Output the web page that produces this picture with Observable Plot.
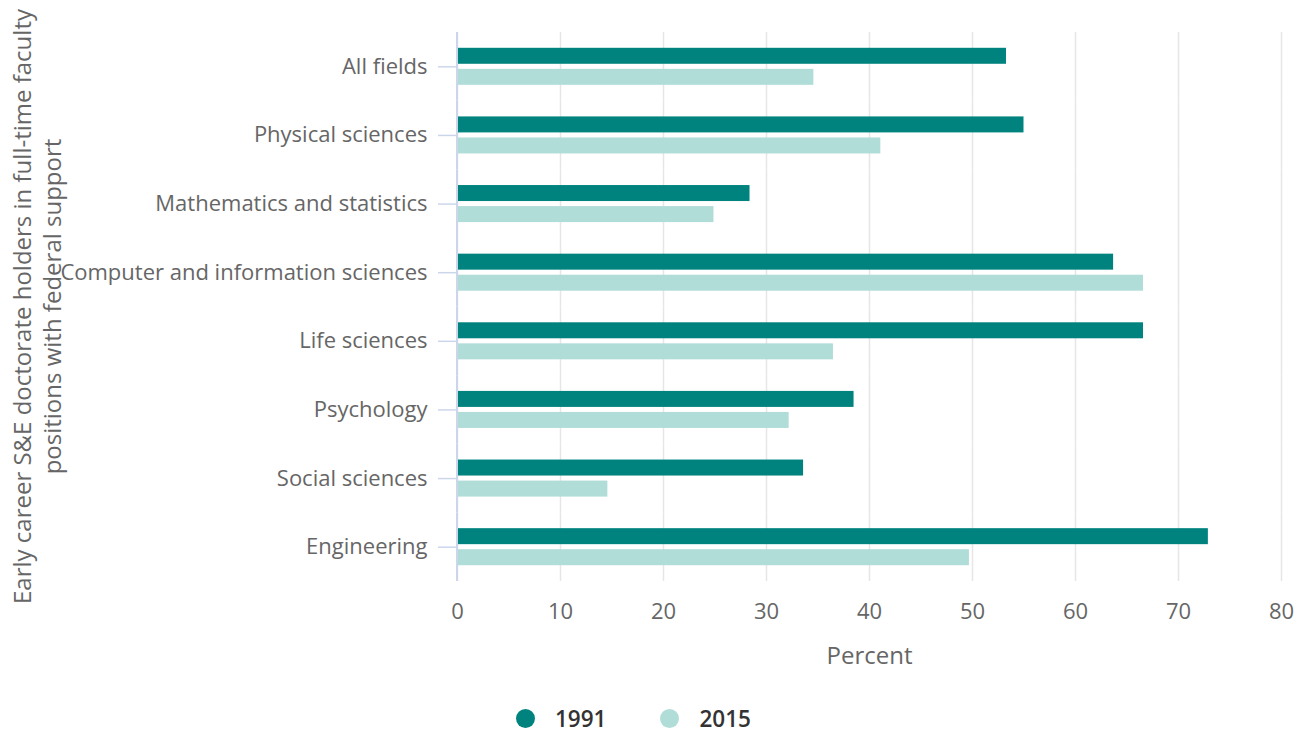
<!DOCTYPE html>
<html>
<head>
<meta charset="utf-8">
<script src="https://cdn.jsdelivr.net/npm/d3@7"></script>
<script src="https://cdn.jsdelivr.net/npm/@observablehq/plot@0.6"></script>
<style>
  html, body { margin: 0; padding: 0; background: #fff; }
  #wrap { position: relative; width: 1306px; height: 733px; font-family: "Open Sans", sans-serif; }
  #ytitle {
    position: absolute; width: 640px; height: 59px; left: -284px; top: 276.5px;
    transform: rotate(-90deg); text-align: center; font-size: 24px; line-height: 29.5px;
    color: #666666; white-space: nowrap;
  }
  #legend { position: absolute; left: 516px; top: 703px; height: 30px; display: flex; align-items: center;
    font-size: 22.5px; font-weight: 600; color: #333333; }
  .item { display: flex; align-items: center; }
  .dot { width: 19px; height: 19px; border-radius: 50%; margin-right: 20px; }
</style>
</head>
<body>
<div id="wrap">
  <div id="chart"></div>
  <div id="ytitle"></div>
  <div id="legend"></div>
</div>
<script>
const categories = [
  "All fields",
  "Physical sciences",
  "Mathematics and statistics",
  "Computer and information sciences",
  "Life sciences",
  "Psychology",
  "Social sciences",
  "Engineering"
];
const years = ["1991", "2015"];
const values1991 = [53.3, 55.0, 28.4, 63.7, 66.6, 38.5, 33.6, 72.9];
const values2015 = [34.6, 41.1, 24.9, 66.6, 36.5, 32.2, 14.6, 49.7];
const colors = ["#00837e", "#b1ddd9"];
const xTicks = [0, 10, 20, 30, 40, 50, 60, 70, 80];
const xLabel = "Percent";
const yTitleLines = ["Early career S&E doctorate holders in full-time faculty", "positions with federal support"];

const data = [];
categories.forEach((c, i) => {
  data.push({category: c, year: years[0], value: values1991[i]});
  data.push({category: c, year: years[1], value: values2015[i]});
});

const plot = Plot.plot({
  width: 1306,
  height: 695,
  marginLeft: 457,
  marginRight: 25,
  marginTop: 32,
  marginBottom: 114,
  style: {fontFamily: "Open Sans", fontSize: "22px", color: "#666666", background: "#fff"},
  x: {domain: [0, 80]},
  y: {domain: years, paddingInner: 0.24, paddingOuter: 0.75, round: false, axis: null},
  fy: {domain: categories, padding: 0, round: false},
  color: {domain: years, range: colors},
  marks: [
    Plot.gridX({ticks: xTicks, stroke: "#e6e6e6", strokeOpacity: 1, strokeWidth: 1.5}),
    Plot.barX(data, {x: "value", y: "year", fy: "category", fill: "year"}),
    Plot.ruleX([0], {stroke: "#ccd6eb", strokeWidth: 2, dx: -0.5}),
    Plot.axisFy({anchor: "left", label: null, tickSize: 19, tickPadding: 11, stroke: "#ccd6eb", strokeWidth: 1.5, fill: "#666666", fontSize: 22}),
    Plot.axisX({ticks: xTicks, tickSize: 0, tickPadding: 22, fill: "#666666", fontSize: 22, label: null}),
    Plot.axisX({ticks: [], tickSize: 0, fill: "#666666", fontSize: 24,
      label: xLabel, labelAnchor: "center", labelArrow: "none", labelOffset: 82.5})
  ]
});
document.getElementById("chart").appendChild(plot);

document.getElementById("ytitle").innerHTML = yTitleLines.join("<br>");

const legend = document.getElementById("legend");
years.forEach((y, i) => {
  const item = document.createElement("div");
  item.className = "item";
  if (i > 0) item.style.marginLeft = "54px";
  const dot = document.createElement("span");
  dot.className = "dot";
  dot.style.background = colors[i];
  const t = document.createElement("span");
  t.textContent = y;
  item.appendChild(dot);
  item.appendChild(t);
  legend.appendChild(item);
});
</script>
</body>
</html>
